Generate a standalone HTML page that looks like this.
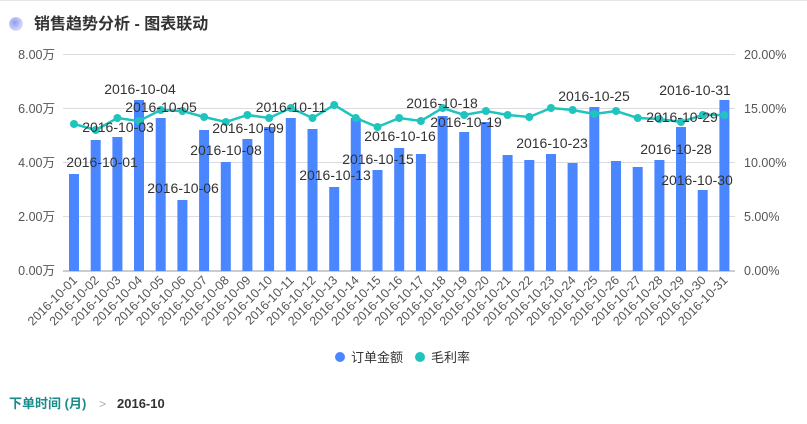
<!DOCTYPE html>
<html><head><meta charset="utf-8"><style>
body{margin:0;width:807px;height:424px;background:#fff;overflow:hidden;font-family:"Liberation Sans","Noto Sans CJK SC",sans-serif}
</style></head><body>
<svg width="807" height="424" xmlns="http://www.w3.org/2000/svg" style="position:absolute;left:0;top:0;font-family:'Liberation Sans','Noto Sans CJK SC',sans-serif">
<rect x="0" y="0" width="807" height="1" fill="#e6e6e6"/>
<defs><radialGradient id="g" cx="0.4" cy="0.4" r="0.7"><stop offset="0" stop-color="#8f9cf0"/><stop offset="1" stop-color="#e6e9fb"/></radialGradient></defs>
<circle cx="16" cy="24" r="7" fill="url(#g)"/>
<text x="34" y="29" font-size="16" font-weight="bold" fill="#333">销售趋势分析 - 图表联动</text>
<g stroke="#dcdce0" stroke-width="1">
<line x1="63" y1="54.5" x2="735" y2="54.5"/><line x1="63" y1="108.5" x2="735" y2="108.5"/><line x1="63" y1="162.5" x2="735" y2="162.5"/><line x1="63" y1="216.5" x2="735" y2="216.5"/><line x1="63" y1="271" x2="735" y2="271" stroke="#ccc" stroke-width="2"/>
</g>
<g font-size="12.5" fill="#555" text-anchor="end">
<text x="55" y="59">8.00万</text><text x="55" y="113">6.00万</text><text x="55" y="167">4.00万</text><text x="55" y="221">2.00万</text><text x="55" y="275">0.00万</text>
</g>
<g font-size="12.5" fill="#555">
<text x="744" y="59">20.00%</text><text x="744" y="113">15.00%</text><text x="744" y="167">10.00%</text><text x="744" y="221">5.00%</text><text x="744" y="275">0.00%</text>
</g>
<g fill="#4a86ff">
<rect x="69" y="174" width="10" height="97"/><rect x="90.7" y="140" width="10" height="131"/><rect x="112.4" y="137" width="10" height="134"/><rect x="134" y="100" width="10" height="171"/><rect x="155.7" y="118" width="10" height="153"/><rect x="177.4" y="200" width="10" height="71"/><rect x="199.1" y="130" width="10" height="141"/><rect x="220.8" y="162" width="10" height="109"/><rect x="242.4" y="139" width="10" height="132"/><rect x="264.1" y="127" width="10" height="144"/><rect x="285.8" y="118" width="10" height="153"/><rect x="307.5" y="129" width="10" height="142"/><rect x="329.2" y="187" width="10" height="84"/><rect x="350.8" y="118" width="10" height="153"/><rect x="372.5" y="170" width="10" height="101"/><rect x="394.2" y="148" width="10" height="123"/><rect x="415.9" y="154" width="10" height="117"/><rect x="437.6" y="116" width="10" height="155"/><rect x="459.2" y="132" width="10" height="139"/><rect x="480.9" y="122" width="10" height="149"/><rect x="502.6" y="155" width="10" height="116"/><rect x="524.3" y="160" width="10" height="111"/><rect x="546" y="154" width="10" height="117"/><rect x="567.6" y="163" width="10" height="108"/><rect x="589.3" y="107" width="10" height="164"/><rect x="611" y="161" width="10" height="110"/><rect x="632.7" y="167" width="10" height="104"/><rect x="654.4" y="160" width="10" height="111"/><rect x="676" y="127" width="10" height="144"/><rect x="697.7" y="190" width="10" height="81"/><rect x="719.4" y="100" width="10" height="171"/>
</g>
<polyline fill="none" stroke="#1fc4bd" stroke-width="2.5" points="74,124 95.7,130 117.4,118 139,121 160.7,110 182.4,111 204.1,117 225.8,122 247.4,115 269.1,118 290.8,108 312.5,118 334.2,105 355.8,118 377.5,127 399.2,118 420.9,121 442.6,108 464.2,115 485.9,111 507.6,115 529.3,117 551,108 572.6,110 594.3,114 616,111 637.7,118 659.4,119 681,122 702.7,115 724.4,115"/>
<g fill="#1fc4bd">
<circle cx="74" cy="124" r="4"/><circle cx="95.7" cy="130" r="4"/><circle cx="117.4" cy="118" r="4"/><circle cx="139" cy="121" r="4"/><circle cx="160.7" cy="110" r="4"/><circle cx="182.4" cy="111" r="4"/><circle cx="204.1" cy="117" r="4"/><circle cx="225.8" cy="122" r="4"/><circle cx="247.4" cy="115" r="4"/><circle cx="269.1" cy="118" r="4"/><circle cx="290.8" cy="108" r="4"/><circle cx="312.5" cy="118" r="4"/><circle cx="334.2" cy="105" r="4"/><circle cx="355.8" cy="118" r="4"/><circle cx="377.5" cy="127" r="4"/><circle cx="399.2" cy="118" r="4"/><circle cx="420.9" cy="121" r="4"/><circle cx="442.6" cy="108" r="4"/><circle cx="464.2" cy="115" r="4"/><circle cx="485.9" cy="111" r="4"/><circle cx="507.6" cy="115" r="4"/><circle cx="529.3" cy="117" r="4"/><circle cx="551" cy="108" r="4"/><circle cx="572.6" cy="110" r="4"/><circle cx="594.3" cy="114" r="4"/><circle cx="616" cy="111" r="4"/><circle cx="637.7" cy="118" r="4"/><circle cx="659.4" cy="119" r="4"/><circle cx="681" cy="122" r="4"/><circle cx="702.7" cy="115" r="4"/><circle cx="724.4" cy="115" r="4"/>
</g>
<g font-size="14" fill="#333" text-anchor="middle">
<text x="102" y="167">2016-10-01</text><text x="118" y="132">2016-10-03</text><text x="140" y="94">2016-10-04</text><text x="161" y="112">2016-10-05</text><text x="183" y="193">2016-10-06</text><text x="226" y="155">2016-10-08</text><text x="248" y="133">2016-10-09</text><text x="291" y="112">2016-10-11</text><text x="335" y="180">2016-10-13</text><text x="378" y="164">2016-10-15</text><text x="400" y="141">2016-10-16</text><text x="442" y="108">2016-10-18</text><text x="466" y="127">2016-10-19</text><text x="552" y="148">2016-10-23</text><text x="594" y="101">2016-10-25</text><text x="676" y="154">2016-10-28</text><text x="682" y="122">2016-10-29</text><text x="697" y="185">2016-10-30</text><text x="695" y="95">2016-10-31</text>
</g>
<g font-size="12.5" fill="#555" text-anchor="end">
<text transform="translate(78,281) rotate(-45)">2016-10-01</text><text transform="translate(99.7,281) rotate(-45)">2016-10-02</text><text transform="translate(121.4,281) rotate(-45)">2016-10-03</text><text transform="translate(143,281) rotate(-45)">2016-10-04</text><text transform="translate(164.7,281) rotate(-45)">2016-10-05</text><text transform="translate(186.4,281) rotate(-45)">2016-10-06</text><text transform="translate(208.1,281) rotate(-45)">2016-10-07</text><text transform="translate(229.8,281) rotate(-45)">2016-10-08</text><text transform="translate(251.4,281) rotate(-45)">2016-10-09</text><text transform="translate(273.1,281) rotate(-45)">2016-10-10</text><text transform="translate(294.8,281) rotate(-45)">2016-10-11</text><text transform="translate(316.5,281) rotate(-45)">2016-10-12</text><text transform="translate(338.2,281) rotate(-45)">2016-10-13</text><text transform="translate(359.8,281) rotate(-45)">2016-10-14</text><text transform="translate(381.5,281) rotate(-45)">2016-10-15</text><text transform="translate(403.2,281) rotate(-45)">2016-10-16</text><text transform="translate(424.9,281) rotate(-45)">2016-10-17</text><text transform="translate(446.6,281) rotate(-45)">2016-10-18</text><text transform="translate(468.2,281) rotate(-45)">2016-10-19</text><text transform="translate(489.9,281) rotate(-45)">2016-10-20</text><text transform="translate(511.6,281) rotate(-45)">2016-10-21</text><text transform="translate(533.3,281) rotate(-45)">2016-10-22</text><text transform="translate(555,281) rotate(-45)">2016-10-23</text><text transform="translate(576.6,281) rotate(-45)">2016-10-24</text><text transform="translate(598.3,281) rotate(-45)">2016-10-25</text><text transform="translate(620,281) rotate(-45)">2016-10-26</text><text transform="translate(641.7,281) rotate(-45)">2016-10-27</text><text transform="translate(663.4,281) rotate(-45)">2016-10-28</text><text transform="translate(685,281) rotate(-45)">2016-10-29</text><text transform="translate(706.7,281) rotate(-45)">2016-10-30</text><text transform="translate(728.4,281) rotate(-45)">2016-10-31</text>
</g>
<circle cx="340" cy="357" r="5" fill="#4a86ff"/><text x="351" y="362" font-size="13" fill="#333">订单金额</text>
<circle cx="420" cy="357" r="5" fill="#1fc4bd"/><text x="431" y="362" font-size="13" fill="#333">毛利率</text>
<text x="9" y="408" font-size="13" font-weight="bold" fill="#1a8a8a">下单时间 (月)</text>
<text x="99" y="408" font-size="12" fill="#aaa">&gt;</text>
<text x="117" y="408" font-size="13" font-weight="bold" fill="#333">2016-10</text>
</svg>
</body></html>
